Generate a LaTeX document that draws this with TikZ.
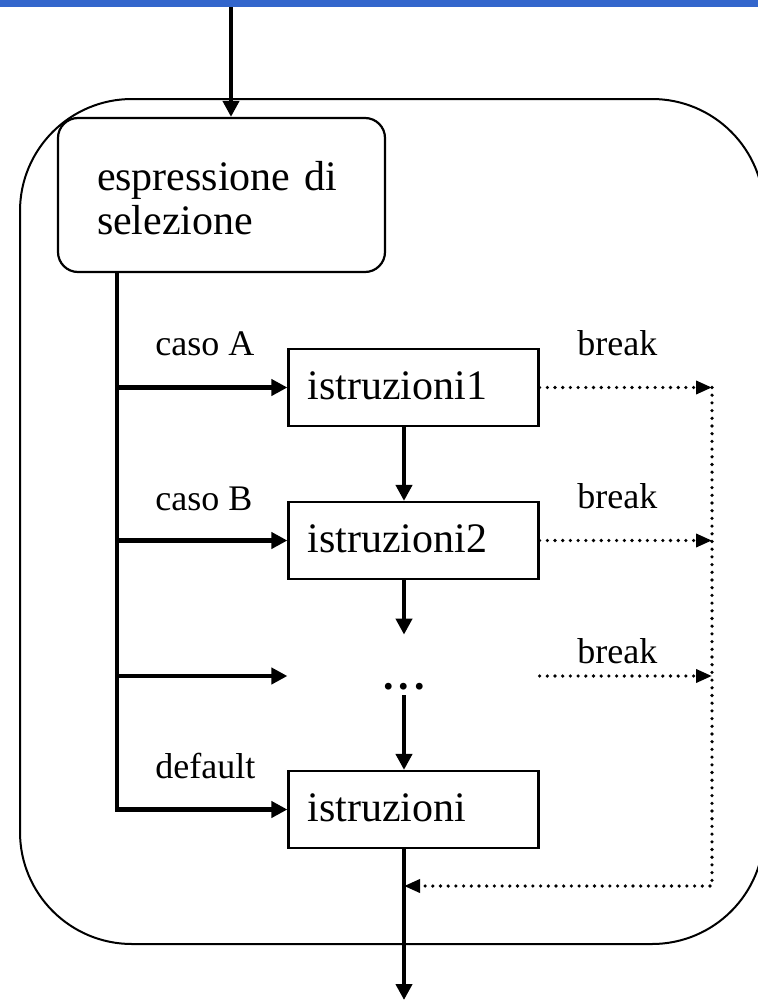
\documentclass[tikz,border=0pt]{standalone}
\usepackage{fontspec}
\setmainfont{Liberation Serif}
\usetikzlibrary{arrows.meta}
\definecolor{barblue}{RGB}{51,102,204}

\begin{document}
\begin{tikzpicture}[x=0.5pt,y=-0.5pt,>={Triangle[length=8pt,width=8pt]},
        flow/.style={line width=2.1pt,->},
        brk/.style={line width=1.8pt,line cap=round,dash pattern=on 0pt off 3.85pt,
            -{Triangle[length=8pt,width=6.5pt]}},
        blk/.style={draw,line width=1.1pt,minimum width=125pt,minimum height=38.5pt,
            text width=106pt,inner xsep=9.5pt,align=left,
            text height=12pt,text depth=0pt,font=\fontsize{21}{24}\selectfont},
        lbl/.style={anchor=base west,inner sep=0pt,font=\fontsize{18}{21}\selectfont}]
        \useasboundingbox (0,0) rectangle (758,1001);

        % the outer block of the switch
        \draw[line width=1pt,rounded corners=56pt] (20,99) rectangle (764,944);

        % selection expression and statement blocks
        \node[draw,line width=1.1pt,rounded corners=10pt,minimum height=77pt,
              text width=124.5pt,inner xsep=19.5pt,align=left,
              text height=15pt,text depth=20pt,font=\fontsize{21}{22}\selectfont]
              (sel) at (221.5,195) {espressione di\\selezione};
        \node[blk] (i1) at (413.5,387.5) {istruzioni1};
        \node[blk] (i2) at (413.5,540.5) {istruzioni2};
        \node[inner xsep=0pt,inner ysep=3pt,text height=24pt,text depth=0pt,
              font=\fontsize{21}{24}\selectfont\bfseries]
              (dots) at (404,665) {.\hspace{2.5pt}.\hspace{2.5pt}.};
        \node[blk] (i) at (413.5,809.5) {istruzioni};

        % free ends
        \coordinate (in) at (231,7);
        \coordinate (tC) at (117,676);
        \coordinate (tD) at (117,809.5);
        \coordinate (bA) at (712,387.5);
        \coordinate (bD) at (712,886);
        \coordinate (out) at (404,1000);

        % entry, cases and the way down
        \draw[flow] (in) -- (in |- sel.north);
        \draw[flow] (sel.south -| tD) -- (tD) -- (i.west);
        \draw[flow] (tD |- i1.west) -- (i1.west);
        \draw[flow] (tD |- i2.west) -- (i2.west);
        \draw[flow] (tC) -- (i1.west |- tC);
        \draw[flow] (i1.south -| dots) -- (i2.north -| dots);
        \draw[flow] (i2.south -| dots) -- (dots.north);
        \draw[flow] (dots.south) -- (i.north -| dots);
        \draw[flow] (i.south -| dots) -- (out);

        % break jumps
        \draw[brk] (i1.east) -- (bA);
        \draw[brk] (i2.east) -- (bA |- i2.east);
        \draw[brk] (i1.east |- tC) -- (bA |- tC);
        \draw[brk] (bA) -- (bD) -- (bD -| out);

        % labels
        \node[lbl] (caseA) at (155,355) {caso A};
        \node[lbl] (caseB) at (155,510) {caso B};
        \node[lbl] (dflt) at (155,778) {default};
        \foreach \y/\name in {355/brkA,508/brkB,663/brkC}
                \node[lbl] (\name) at (577,\y) {break};

        % title bar
        \fill[barblue] (0,0) rectangle (758,7);
\end{tikzpicture}
\end{document}
